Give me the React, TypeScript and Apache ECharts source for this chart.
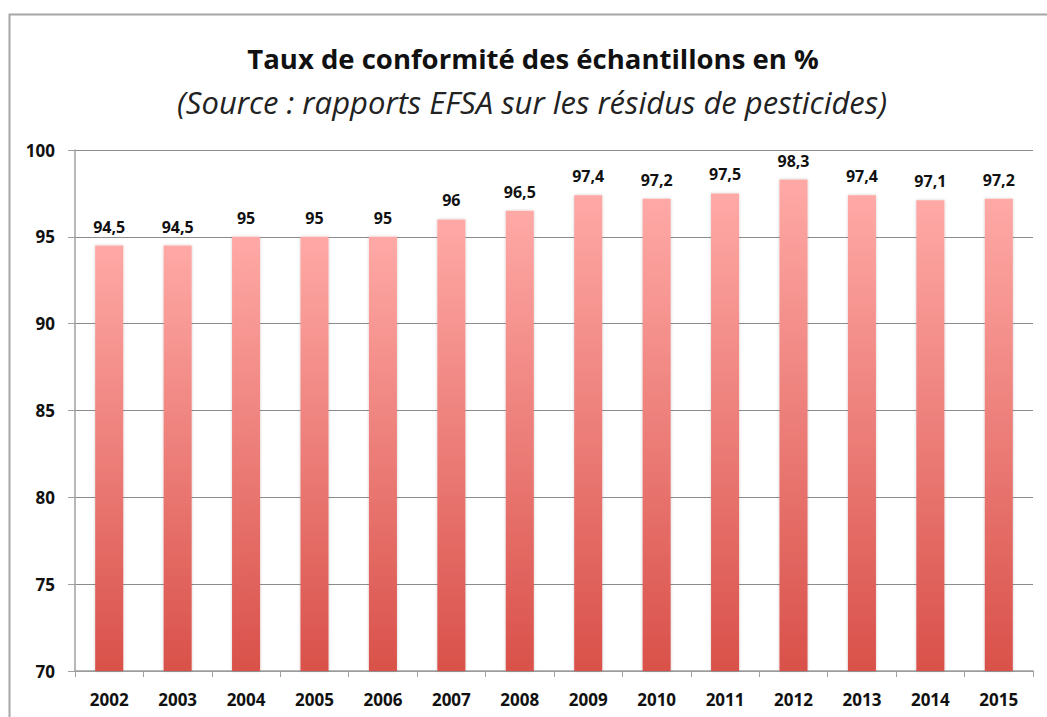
import React, { useEffect, useRef } from "react";
import * as echarts from "echarts";

const years = ["2002", "2003", "2004", "2005", "2006", "2007", "2008", "2009", "2010", "2011", "2012", "2013", "2014", "2015"];
const rates = [94.5, 94.5, 95, 95, 95, 96, 96.5, 97.4, 97.2, 97.5, 98.3, 97.4, 97.1, 97.2];
const titleText = "Taux de conformité des échantillons en %";
const subtitleText = "(Source : rapports EFSA sur les résidus de pesticides)";

const FONT = "'Open Sans', 'Noto Sans', sans-serif";

export default function App() {
  const ref = useRef<HTMLDivElement>(null);
  useEffect(() => {
    if (!ref.current) return;
    const chart = echarts.init(ref.current, null, { renderer: "svg" });
    chart.setOption({
      animation: false,
      backgroundColor: "#ffffff",
      graphic: [
        {
          type: "rect",
          shape: { x: 9.5, y: 14.5, width: 1100, height: 800 },
          style: { fill: "none", stroke: "#a6a6a6", lineWidth: 2 },
          silent: true,
        },
      ],
      title: [
        {
          text: titleText,
          left: 533,
          textAlign: "center",
          top: 44,
          padding: 0,
          textStyle: { fontFamily: FONT, fontWeight: "bold", fontSize: 27.5, color: "#111111" },
        },
        {
          text: subtitleText,
          left: 532,
          textAlign: "center",
          top: 86,
          padding: 0,
          textStyle: { fontFamily: FONT, fontStyle: "italic", fontWeight: "normal", fontSize: 31, color: "#222222" },
        },
      ],
      grid: { left: 75, right: 14, top: 150, bottom: 46 },
      xAxis: {
        type: "category",
        data: years,
        axisLine: { show: true, lineStyle: { color: "#a0a0a0", width: 1.5 } },
        axisTick: { show: true, length: 6, lineStyle: { color: "#a0a0a0" } },
        axisLabel: { fontFamily: FONT, fontWeight: "bold", fontSize: 17, color: "#111111", margin: 20 },
      },
      yAxis: {
        type: "value",
        min: 70,
        max: 100,
        interval: 5,
        axisLine: { show: true, lineStyle: { color: "#a0a0a0", width: 1.5 } },
        axisTick: { show: true, length: 7, lineStyle: { color: "#a0a0a0" } },
        splitLine: { lineStyle: { color: "#8c8c8c", width: 1 } },
        axisLabel: { fontFamily: FONT, fontWeight: "bold", fontSize: 17, color: "#111111", margin: 20 },
      },
      series: [
        {
          type: "bar",
          data: rates,
          barWidth: "41%",
          itemStyle: {
            color: new echarts.graphic.LinearGradient(0, 0, 0, 1, [
              { offset: 0, color: "#ffa9a6" },
              { offset: 1, color: "#d9514a" },
            ]),
            shadowColor: "rgba(0,0,0,0.2)",
            shadowBlur: 3,
          },
          label: {
            show: true,
            position: "top",
            distance: 11,
            fontFamily: FONT,
            fontWeight: "bold",
            fontSize: 16,
            color: "#111111",
            formatter: (p: any) => String(p.value).replace(".", ","),
          },
        },
      ],
    });
    return () => chart.dispose();
  }, []);
  return <div ref={ref} style={{ position: "absolute", left: 0, top: 0, width: 1047, height: 717 }} />;
}
